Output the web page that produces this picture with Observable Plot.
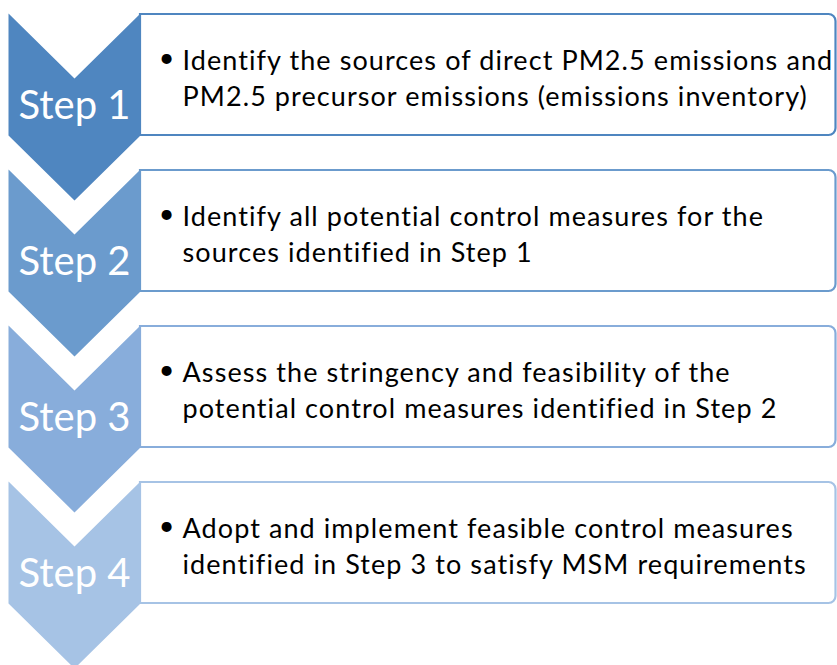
<!DOCTYPE html>
<html>
<head>
<meta charset="utf-8">
<script src="https://cdn.jsdelivr.net/npm/d3@7"></script>
<script src="https://cdn.jsdelivr.net/npm/@observablehq/plot@0.6"></script>
<style>
  html, body { margin: 0; padding: 0; background: #fff; }
  #chart svg { display: block; }
</style>
</head>
<body>
<div id="chart"></div>
<script>
// ---- data ----
const stepLabels = ["Step 1", "Step 2", "Step 3", "Step 4"];
const stepColors = ["#4f86c0", "#6b9bcd", "#88addb", "#a6c3e5"];
const stepTexts = [
  "Identify the sources of direct PM2.5 emissions and\nPM2.5 precursor emissions (emissions inventory)",
  "Identify all potential control measures for the\nsources identified in Step 1",
  "Assess the stringency and feasibility of the\npotential control measures identified in Step 2",
  "Adopt and implement feasible control measures\nidentified in Step 3 to satisfy MSM requirements"
];

// ---- layout constants ----
const W = 837, H = 665;
const period = 156;
const chevLeft = 8, chevRight = 140, chevTop0 = 13;
const sideLen = 122, notch = 65;
const boxRight = 835.5, boxTop0 = 14, boxH = 121;

const steps = stepLabels.map((label, i) => ({
  i, label, color: stepColors[i], text: stepTexts[i],
  top: chevTop0 + period * i,
  boxTop: boxTop0 + period * i
}));

const chevronPts = steps.flatMap(s => {
  const cx = (chevLeft + chevRight) / 2;
  return [
    [chevLeft, s.top],
    [cx, s.top + notch],
    [chevRight, s.top],
    [chevRight, s.top + sideLen],
    [cx, s.top + sideLen + notch],
    [chevLeft, s.top + sideLen]
  ].map(([x, y]) => ({x, y, step: s.label, color: s.color}));
});

const font = "Lato, 'Open Sans', sans-serif";
const bodySize = 27;

function spaced(px) {
  return (index, scales, values, dims, context, next) => {
    const g = next(index, scales, values, dims, context);
    g.setAttribute("letter-spacing", px);
    return g;
  };
}

const chart = Plot.plot({
  width: W, height: H,
  margin: 0,
  x: {domain: [0, W], range: [0, W], axis: null},
  y: {domain: [0, H], range: [0, H], axis: null},
  color: {type: "identity"},
  style: {fontFamily: font, background: "#fff"},
  marks: [
    Plot.rect(steps, {
      x1: chevRight, x2: boxRight,
      y1: d => d.boxTop, y2: d => d.boxTop + boxH,
      fill: "white", stroke: d => d.color, strokeWidth: 2.2,
      rx2: 7
    }),
    Plot.line(chevronPts, {
      x: "x", y: "y", z: "step", fill: "color", stroke: "none",
      curve: "linear-closed"
    }),
    Plot.text(steps, {
      x: (chevLeft + chevRight) / 2, y: d => d.top + 93,
      text: "label", fill: "white", fontSize: 40, textAnchor: "middle",
      fontFamily: font
    }),
    Plot.text(steps, {
      x: 166, y: d => d.boxTop + 61.5, dy: -18,
      text: () => "•", fill: "black", fontSize: bodySize, textAnchor: "middle",
      fontFamily: font
    }),
    Plot.text(steps, {
      x: 182, y: d => d.boxTop + 61.5,
      text: "text", fill: "black", fontSize: bodySize, textAnchor: "start",
      lineAnchor: "middle", lineHeight: 36 / bodySize,
      fontFamily: font, render: spaced("1.08px")
    })
  ]
});
// fallback in case the render option is unavailable
d3.select(chart).selectAll("text")
  .filter(function () { return this.textContent.length > 12; })
  .attr("letter-spacing", "1.08px");
document.getElementById("chart").appendChild(chart);
</script>
</body>
</html>
